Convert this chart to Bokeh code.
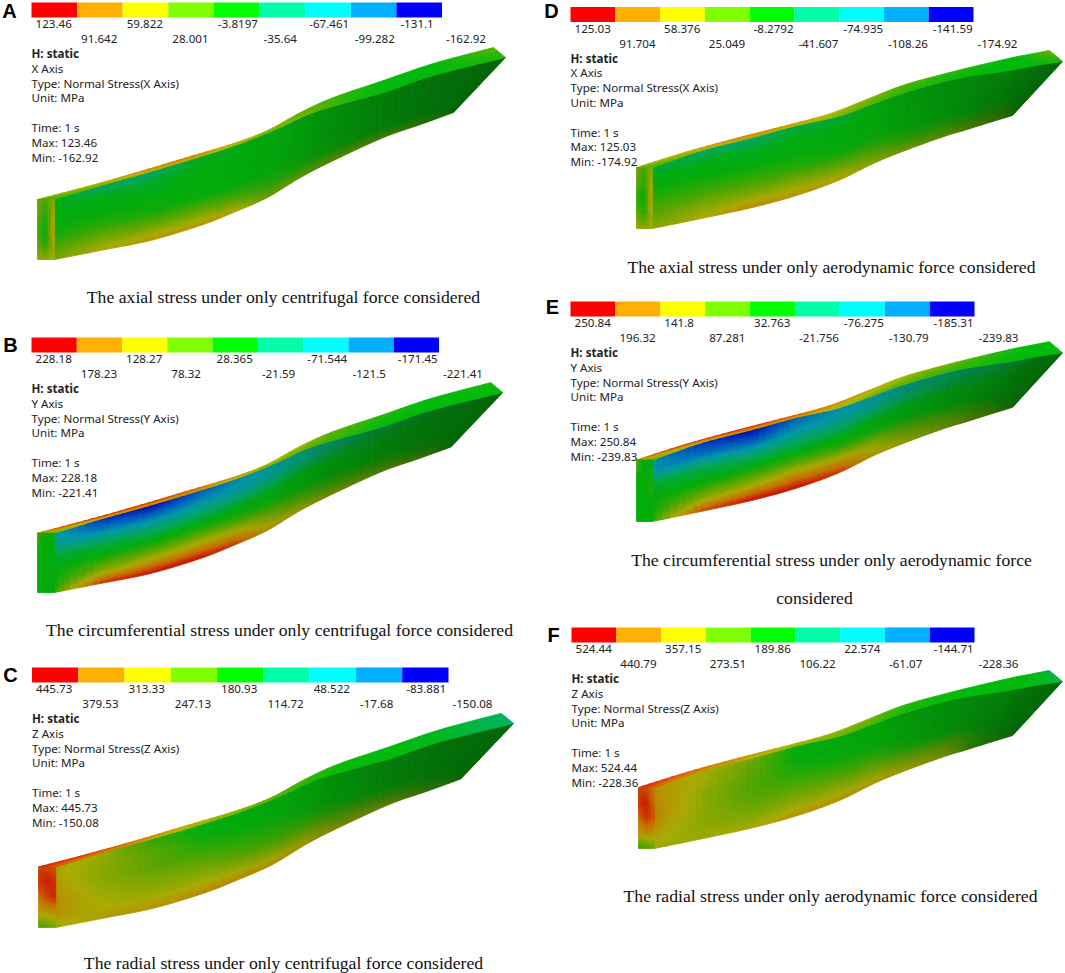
import numpy as np
from bokeh.core.properties import value
from bokeh.embed import file_html
from bokeh.models import ColumnDataSource
from bokeh.plotting import figure
from bokeh.resources import INLINE

# Legend colours, same for all six panels
band_colors = ["#ff0000", "#ffb000", "#ffff00", "#80ff00", "#00ff00",
               "#00ffaa", "#00ffff", "#00b0ff", "#0000ff"]

# Contour legend labels per panel
labels_a = ["123.46", "91.642", "59.822", "28.001", "-3.8197", "-35.64", "-67.461", "-99.282", "-131.1", "-162.92"]
labels_b = ["228.18", "178.23", "128.27", "78.32", "28.365", "-21.59", "-71.544", "-121.5", "-171.45", "-221.41"]
labels_c = ["445.73", "379.53", "313.33", "247.13", "180.93", "114.72", "48.522", "-17.68", "-83.881", "-150.08"]
labels_d = ["125.03", "91.704", "58.376", "25.049", "-8.2792", "-41.607", "-74.935", "-108.26", "-141.59", "-174.92"]
labels_e = ["250.84", "196.32", "141.8", "87.281", "32.763", "-21.756", "-76.275", "-130.79", "-185.31", "-239.83"]
labels_f = ["524.44", "440.79", "357.15", "273.51", "189.86", "106.22", "22.574", "-61.07", "-144.71", "-228.36"]

axis_names = {"A": "X", "B": "Y", "C": "Z", "D": "X", "E": "Y", "F": "Z"}
max_vals = {"A": "123.46", "B": "228.18", "C": "445.73", "D": "125.03", "E": "250.84", "F": "524.44"}
min_vals = {"A": "-162.92", "B": "-221.41", "C": "-150.08", "D": "-174.92", "E": "-239.83", "F": "-228.36"}

captions = [
    "The axial stress under only centrifugal force considered",
    "The circumferential stress under only centrifugal force considered",
    "The radial stress under only centrifugal force considered",
    "The axial stress under only aerodynamic force considered",
    "The circumferential stress under only aerodynamic force",
    "considered",
    "The radial stress under only aerodynamic force considered",
]
caption_x = [283, 279, 283, 831, 831, 814, 830]
caption_y = [296, 629, 962, 266, 559, 597, 895]

letters = ["A", "B", "C", "D", "E", "F"]
letter_x = [9, 10, 10, 551, 552, 553]
letter_y = [10, 344, 674, 10, 306, 634]

# Legend boxes: left, right, top
bar_left = {"A": 31, "B": 31, "C": 31.5, "D": 570, "E": 570, "F": 571}
bar_right = {"A": 441.5, "B": 438.5, "C": 448, "D": 973, "E": 974, "F": 974}
bar_top = {"A": 2, "B": 337, "C": 667, "D": 6.5, "E": 301, "F": 627}

# Blade outlines (left column) and panel D (right column)
left_outer_x = [37, 83, 133, 183, 233, 267, 300, 333, 383, 433, 493]
left_outer_y = [199, 187, 173, 158, 143, 130, 112, 97, 80, 63, 47]
left_ridge_x = [54, 100, 150, 200, 240, 277, 310, 343, 383, 433, 505]
left_ridge_y = [199, 185, 171, 156, 143, 128, 113, 103, 92, 75, 57]
left_lower_x = [54, 100, 150, 200, 233, 267, 300, 333, 383, 420, 453]
left_lower_y = [259, 250, 240, 225, 212, 197, 177, 160, 137, 124, 112]

right_outer_x = [636, 684, 735, 786, 830, 871, 905, 957, 1008, 1028, 1049]
right_outer_y = [167, 152, 138, 125, 113, 97, 84, 70, 58, 54, 50]
right_ridge_x = [652, 701, 752, 796, 837, 871, 905, 957, 1008, 1035, 1062]
right_ridge_y = [167, 150, 137, 125, 116, 104, 92, 78, 70, 65, 61]
right_lower_x = [652, 701, 752, 796, 838, 875, 910, 945, 965, 989, 1012]
right_lower_y = [228, 218, 207, 195, 180, 162, 148, 135.5, 129.5, 122, 115]

# Where each blade sits compared with its reference outline: scale x, scale y, root x, root bottom y
blade_fit = {
    "A": (1.0, 1.0, 37, 259),
    "B": (0.994, 0.99, 37, 592),
    "C": (1.015, 1.01, 38, 927),
    "D": (1.0, 1.0, 636, 228),
    "E": (1.0, 1.01, 636, 521),
    "F": (0.995, 1.0, 638, 848),
}

# Stress: 0 is green, +1 red, -1 blue
# front face: rows run ridge -> lower edge, columns root -> tip
front_a = [[0, -.25, -.3, -.05, -.03, 0, 0, 0, 0, 0, 0],
           [0, -.03, -.05, 0, 0, 0, 0, 0, 0, 0, 0],
           [0, 0, 0, 0, 0, 0, 0, 0, 0, 0, 0],
           [.05, .1, .05, .02, 0, 0, 0, 0, 0, 0, 0],
           [.2, .3, .3, .3, .2, .1, .05, .05, 0, 0, 0],
           [.3, .5, .6, .6, .55, .3, .3, .3, .25, .2, 0]]
front_b = [[-.4, -.85, -1, -.75, -.55, -.45, -.4, -.3, -.2, -.1, 0],
           [-.4, -.55, -.6, -.5, -.45, -.35, -.25, -.15, -.05, 0, 0],
           [-.1, -.15, -.2, -.15, -.1, -.05, 0, 0, 0, 0, 0],
           [0, .05, .1, .15, .1, .05, 0, 0, 0, 0, 0],
           [0, .35, .5, .55, .5, .35, .2, .15, .1, .05, 0],
           [.1, .9, 1, 1, .9, .6, .5, .4, .3, .25, 0]]
front_c = [[.55, .45, .1, 0, 0, 0, 0, 0, 0, 0, 0],
           [.55, .4, .25, .02, 0, 0, 0, 0, 0, 0, 0],
           [.6, .4, .25, .15, .08, .05, 0, 0, 0, 0, 0],
           [.65, .45, .35, .3, .2, .15, .1, .05, 0, 0, 0],
           [.6, .5, .45, .45, .4, .35, .3, .25, .15, .05, 0],
           [.45, .55, .6, .65, .65, .6, .55, .45, .35, .2, .05]]
front_d = [[-.1, -.25, -.3, -.15, -.15, -.03, 0, 0, 0, 0, 0],
           [0, -.03, -.05, -.02, 0, 0, 0, 0, 0, 0, 0],
           [.05, .02, 0, 0, 0, 0, 0, 0, 0, 0, 0],
           [.15, .15, .15, .1, .05, .03, 0, 0, 0, 0, 0],
           [.25, .35, .35, .35, .3, .2, .1, .1, .1, .1, 0],
           [.35, .5, .65, .6, .55, .4, .35, .3, .3, .25, .1]]
front_e = [[-.5, -.85, -1, -.7, -.55, -.5, -.4, -.3, -.2, -.1, 0],
           [-.5, -.6, -.65, -.5, -.4, -.35, -.25, -.15, -.05, 0, 0],
           [-.1, -.15, -.2, -.15, -.1, -.05, -.02, 0, 0, 0, 0],
           [0, .02, .1, .15, .1, .05, .03, 0, 0, 0, 0],
           [0, .35, .5, .6, .55, .4, .25, .2, .15, .05, 0],
           [.1, .85, 1, 1, .9, .55, .45, .35, .3, .25, 0]]
front_f = [[.6, .5, .3, 0, 0, 0, 0, 0, 0, 0, 0],
           [.65, .45, .25, 0, 0, 0, 0, 0, 0, 0, 0],
           [.7, .4, .2, .1, .05, .03, 0, 0, 0, 0, 0],
           [.65, .4, .25, .25, .2, .15, .05, .02, 0, 0, 0],
           [.55, .4, .35, .4, .4, .35, .3, .25, .1, .02, 0],
           [.45, .45, .5, .6, .6, .55, .5, .4, .2, .1, .03]]

# thin top face: outer edge, then ridge
thin_a = [[.3, .5, .7, .75, .6, .4, .25, .15, 0, 0, .25],
          [.1, .3, .5, .55, .4, .3, .3, .1, 0, 0, .05]]
thin_b = [[.8, 1, 1, .9, .75, .55, .45, .25, .1, 0, .05],
          [.2, .5, .6, .6, .4, .3, .2, .1, 0, 0, 0]]
thin_c = [[1, .95, .8, .55, .4, .3, .15, .05, 0, -.05, -.25],
          [.8, .7, .55, .4, .3, .2, .05, 0, 0, -.05, -.25]]
thin_d = [[.4, .6, .7, .65, .5, .35, .2, .1, 0, .05, .3],
          [.1, .4, .55, .5, .35, .2, .1, 0, 0, 0, .05]]
thin_e = [[.8, 1, 1, .9, .75, .6, .45, .25, .05, 0, 0],
          [.2, .5, .6, .6, .4, .3, .2, .1, 0, 0, 0]]
thin_f = [[1, .85, .7, .55, .4, .3, .1, 0, 0, 0, -.15],
          [.8, .65, .5, .35, .3, .2, .05, 0, 0, 0, -.15]]

# root end face: rows top -> bottom, columns left -> right
root_a = [[.35, .2, .4], [.3, .1, .5], [.2, 0, .65], [.3, .1, .5], [.4, .4, .45]]
root_b = [[.2, 0, 0], [.05, 0, 0], [0, 0, 0], [0, 0, 0], [0, 0, 0]]
root_c = [[.85, .85, .8], [.9, .95, .9], [.75, .85, .95], [.55, .6, .6], [.2, .25, .35]]
root_d = [[.35, .2, .4], [.3, .1, .5], [.1, 0, .65], [.3, .1, .5], [.45, .4, .45]]
root_e = [[.25, 0, 0], [.05, 0, .05], [0, 0, .1], [0, 0, 0], [0, 0, 0]]
root_f = [[.85, .85, .7], [.9, .95, .75], [.75, .9, .8], [.55, .65, .6], [.1, .2, .3]]

front_values = {"A": front_a, "B": front_b, "C": front_c, "D": front_d, "E": front_e, "F": front_f}
thin_values = {"A": thin_a, "B": thin_b, "C": thin_c, "D": thin_d, "E": thin_e, "F": thin_f}
root_values = {"A": root_a, "B": root_b, "C": root_c, "D": root_d, "E": root_e, "F": root_f}

# Colour ramp and the darkening of the front face towards the tip
ramp_levels = [-1, -.75, -.5, -.25, 0, .25, .5, .75, 1]
ramp_r = [0, 0, 0, 0, 0, 90, 170, 200, 205]
ramp_g = [0, 80, 150, 165, 172, 165, 170, 110, 10]
ramp_b = [170, 190, 170, 100, 10, 0, 0, 0, 0]
tip_shade = [1, 1, 1, 1, .98, .95, .88, .8, .72, .65, .58]

p = figure(width=1065, height=973, x_range=(0, 1065), y_range=(973, 0),
           output_backend="svg", toolbar_location=None, min_border=0,
           x_axis_location=None, y_axis_location=None)
p.grid.visible = False
p.outline_line_color = None
p.background_fill_color = "white"


def level_color(level, shade):
    r = np.interp(level, ramp_levels, ramp_r) * shade
    g = np.interp(level, ramp_levels, ramp_g) * shade
    b = np.interp(level, ramp_levels, ramp_b) * shade
    return "#%02x%02x%02x" % (int(min(r, 255)), int(min(g, 255)), int(min(b, 255)))


def smooth_row(row, u):
    # Catmull-Rom through one row of the grid, keeps the blade edges from looking kinked
    n = len(row)
    j = min(int(u), n - 2)
    t = u - j
    p0, p1, p2, p3 = row[max(j - 1, 0)], row[j], row[j + 1], row[min(j + 2, n - 1)]
    return 0.5 * (2 * p1 + (p2 - p0) * t + (2 * p0 - 5 * p1 + 4 * p2 - p3) * t ** 2
                  + (3 * p1 - p0 - 3 * p2 + p3) * t ** 3)


def draw_face(xs, ys, levels, shades, nx, ny, curved=True):
    # Gouraud style shading of a read-off grid, the way the FE viewer fills its elements
    xs, ys, levels = np.array(xs, float), np.array(ys, float), np.array(levels, float)
    shades = np.array(shades, float)
    rows, cols = levels.shape

    def blend(grid, u, v):
        i, j = min(int(v), rows - 2), min(int(u), cols - 2)
        fu, fv = u - j, v - i
        return ((1 - fv) * ((1 - fu) * grid[i, j] + fu * grid[i, j + 1])
                + fv * ((1 - fu) * grid[i + 1, j] + fu * grid[i + 1, j + 1]))

    def curve(grid, u, v):
        if not curved:
            return blend(grid, u, v)
        i = min(int(v), rows - 2)
        fv = v - i
        return (1 - fv) * smooth_row(grid[i], u) + fv * smooth_row(grid[i + 1], u)

    px, py, colors = [], [], []
    for i in range((rows - 1) * ny):
        for j in range((cols - 1) * nx):
            u0, u1 = j / nx, (j + 1) / nx
            v0, v1 = i / ny, (i + 1) / ny
            corners = [(u0, v0), (u1, v0), (u1, v1), (u0, v1)]
            px.append([curve(xs, u, v) for u, v in corners])
            py.append([curve(ys, u, v) for u, v in corners])
            um, vm = (u0 + u1) / 2, (v0 + v1) / 2
            colors.append(level_color(blend(levels, um, vm), blend(shades, um, vm)))
    p.patches(px, py, fill_color=colors, line_color=colors, line_width=0.8)


for name in letters:
    sx, sy, root_x, root_y = blade_fit[name]
    if name in "ABC":
        outer_x, outer_y = left_outer_x, left_outer_y
        ridge_x, ridge_y = left_ridge_x, left_ridge_y
        lower_x, lower_y = left_lower_x, left_lower_y
    else:
        outer_x, outer_y = right_outer_x, right_outer_y
        ridge_x, ridge_y = right_ridge_x, right_ridge_y
        lower_x, lower_y = right_lower_x, right_lower_y

    # move the reference outline onto this panel
    x_base, y_base = outer_x[0], lower_y[0]
    ox = (np.array(outer_x) - x_base) * sx + root_x
    oy = (np.array(outer_y) - y_base) * sy + root_y
    rx = (np.array(ridge_x) - x_base) * sx + root_x
    ry = (np.array(ridge_y) - y_base) * sy + root_y
    lx = (np.array(lower_x) - x_base) * sx + root_x
    ly = (np.array(lower_y) - y_base) * sy + root_y

    # front face
    n_rows = len(front_values[name])
    fx = [rx + (lx - rx) * k / (n_rows - 1) for k in range(n_rows)]
    fy = [ry + (ly - ry) * k / (n_rows - 1) for k in range(n_rows)]
    draw_face(fx, fy, front_values[name], [tip_shade] * n_rows, 7, 6)

    # thin top face
    draw_face([ox, rx], [oy, ry], thin_values[name], [[1.08] * 11] * 2, 7, 3)

    # root face
    n_root = len(root_values[name])
    xl, xr = ox[0], rx[0]
    yt, yb = oy[0], ly[0]
    gx = [[xl, (xl + xr) / 2, xr]] * n_root
    gy = [[yt + (yb - yt) * k / (n_root - 1)] * 3 for k in range(n_root)]
    draw_face(gx, gy, root_values[name], [[1.0] * 3] * n_root, 4, 6, curved=False)

# Legend bars and labels
bar_height = 15
line_step = 14.8
for name, labels in zip(letters, [labels_a, labels_b, labels_c, labels_d, labels_e, labels_f]):
    x0, x1, top = bar_left[name], bar_right[name], bar_top[name]
    w = (x1 - x0) / len(band_colors)
    lefts = [x0 + i * w for i in range(len(band_colors))]
    rights = [x + w for x in lefts]
    p.quad(left=lefts, right=rights, top=top, bottom=top + bar_height,
           fill_color=band_colors, line_color=None)

    src = ColumnDataSource(dict(
        x=[x0 + 4 + i * w for i in range(len(labels))],
        y=[top + bar_height + (6.5 if i % 2 == 0 else 21.5) for i in range(len(labels))],
        t=labels,
    ))
    p.text("x", "y", text="t", source=src, text_font=value("Noto Sans"), text_font_size="11.6px",
           text_color="#222222", text_baseline="middle", text_align="left")

    axis = axis_names[name]
    info = [(0, "H: static"), (1, axis + " Axis"), (2, "Type: Normal Stress(" + axis + " Axis)"),
            (3, "Unit: MPa"), (5, "Time: 1 s"), (6, "Max: " + max_vals[name]), (7, "Min: " + min_vals[name])]
    for row, line in info:
        p.text([x0], [top + bar_height + 36 + row * line_step], text=[line],
               text_font=value("Noto Sans"), text_font_size="11.6px",
               text_font_style="bold" if row == 0 else "normal",
               text_color="#222222", text_baseline="middle", text_align="left")

# Captions under the blades
p.text(caption_x, caption_y, text=captions, text_font=value("Liberation Serif"), text_font_size="17.7px",
       text_color="#111111", text_baseline="middle", text_align="center")

# Panel letters
p.text(letter_x, letter_y, text=letters, text_font=value("Liberation Sans"), text_font_size="20px",
       text_font_style="bold", text_color="black", text_baseline="middle", text_align="center")

open("out.html", "w").write(file_html(p, INLINE))
